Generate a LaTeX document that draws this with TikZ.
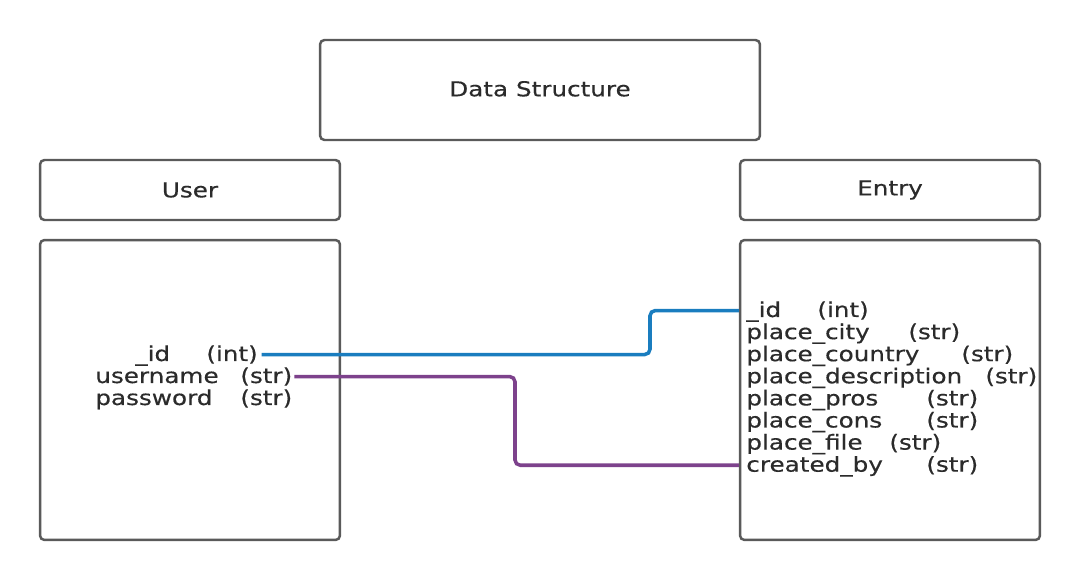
\documentclass[tikz,border=0pt]{standalone}
\usepackage{fontspec}
\setmainfont{DejaVu Sans}[FakeStretch=1.2, FakeBold=0.4]
\definecolor{boxgray}{HTML}{5A5A5A}
\definecolor{txtgray}{HTML}{2B2B2B}
\definecolor{linkblue}{HTML}{1A7DBF}
\definecolor{linkpurple}{HTML}{7D428C}
\tikzset{
  box/.style={draw=boxgray, line width=1.4pt, rounded corners=2.5pt, fill=white,
    inner sep=0pt, text=txtgray, font=\fontsize{11.7}{14}\selectfont},
  field/.style={inner xsep=0pt, inner ysep=1pt, text=txtgray,
    font=\fontsize{11.7}{14}\selectfont},
  link/.style={line width=2pt, rounded corners=3pt}
}
\begin{document}
\begin{tikzpicture}[x=0.02cm, y=-0.02cm]
\useasboundingbox (0,0) rectangle (1080,580);
% headers
\node[box, minimum width=8.8cm, minimum height=2cm] (title) at (540,90) {\raisebox{1.5pt}{Data Structure}};
\node[box, minimum width=6cm, minimum height=1.2cm] (user) at (190,190) {User};
\node[box, minimum width=6cm, minimum height=1.2cm] (entry) at (890,190) {Entry};
% tables
\node[box, minimum width=6cm, minimum height=6cm] (ubody) at (190,390) {};
\node[box, minimum width=6cm, minimum height=6cm] (ebody) at (890,390) {};
% user fields
\node[field, anchor=base west] (uf0) at (135,361) {\_id};
\node[field, anchor=base west] (ut0) at (206,361) {(int)};
\node[field, anchor=base west] (uf1) at (95,383) {username};
\node[field, anchor=base west] (ut1) at (240,383) {(str)};
\node[field, anchor=base west] (uf2) at (95,405) {password};
\node[field, anchor=base west] (ut2) at (240,405) {(str)};
% entry fields
\foreach \i/\fname/\ftype/\tx in {0/\_id/(int)/817, 1/place\_city/(str)/908,
    2/place\_country/(str)/961, 3/place\_description/(str)/985,
    4/place\_pros/(str)/926, 5/place\_cons/(str)/926,
    6/place\_file/(str)/889, 7/created\_by/(str)/926} {
  \node[field, anchor=base west] (ef\i) at (746,317+22.1*\i) {\fname};
  \node[field, anchor=base west] (et\i) at (\tx,317+22.1*\i) {\ftype};
}
% links
\coordinate (bluebend) at (650,0);
\coordinate (purplebend) at (515,0);
\draw[link, linkblue] ([xshift=2pt]ut0.east) -| (bluebend |- et0) -- (et0 -| ebody.west);
\draw[link, linkpurple] ([xshift=1pt]ut1.east) -| (purplebend |- et7) -- (et7 -| ebody.west);
\end{tikzpicture}
\end{document}
